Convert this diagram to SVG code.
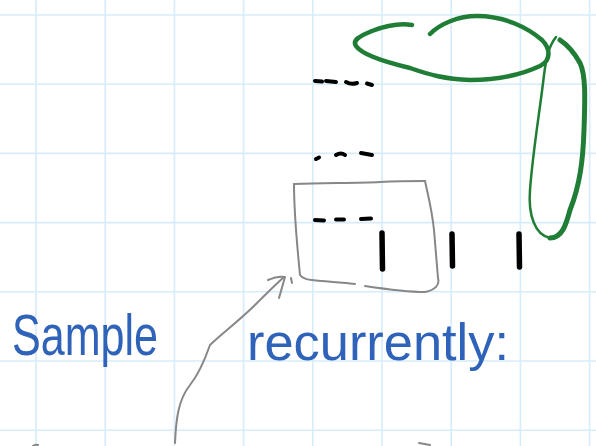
<svg xmlns="http://www.w3.org/2000/svg" width="596" height="446" viewBox="0 0 596 446">
<style>
.grid line{stroke:#d6ecfa;stroke-width:1.6}
.ink{fill:none;stroke-linecap:round;stroke-linejoin:round}
.green{stroke:#1f7d36;stroke-width:4.5}
.grey{stroke:#878787;stroke-width:2}
.black{stroke:#000;stroke-width:4}
.bar{stroke:#000;stroke-width:5.5}
.hand{fill:#2f62b9;font-family:"Liberation Sans",Arial,sans-serif}
</style>
<rect width="596" height="446" fill="#fff"/>
<g id="grid" class="grid">
<line x1="36" y1="0" x2="36" y2="446"/>
<line x1="105.2" y1="0" x2="105.2" y2="446"/>
<line x1="174.4" y1="0" x2="174.4" y2="446"/>
<line x1="243.6" y1="0" x2="243.6" y2="446"/>
<line x1="312.8" y1="0" x2="312.8" y2="446"/>
<line x1="382" y1="0" x2="382" y2="446"/>
<line x1="451.2" y1="0" x2="451.2" y2="446"/>
<line x1="520.4" y1="0" x2="520.4" y2="446"/>
<line x1="589.6" y1="0" x2="589.6" y2="446"/>
<line x1="0" y1="15" x2="596" y2="15"/>
<line x1="0" y1="84.2" x2="596" y2="84.2"/>
<line x1="0" y1="153.4" x2="596" y2="153.4"/>
<line x1="0" y1="222.6" x2="596" y2="222.6"/>
<line x1="0" y1="291.8" x2="596" y2="291.8"/>
<line x1="0" y1="361" x2="596" y2="361"/>
<line x1="0" y1="430.2" x2="596" y2="430.2"/>
</g>
<g id="green-loops" class="ink green">
<path d="M412,25 C400,23 385,26 372,31 C360,36 352,40 356,46 C362,55 385,62 410,68 C430,75 445,79 470,80 C500,80 525,73 540,66 C552,60 550,48 542,40 C528,28 505,16 477,16 C458,16 440,24 430,34"/>
<path style="stroke-width:2.5" d="M556,37 C548,47 546,60 544,75 C540,110 533,150 530,190 C528,215 535,235 550,238"/>
<path style="stroke-width:5" d="M550,238 C562,238 566,225 570,210 C580,185 583,160 584,130 C585,100 586,75 580,63 C574,52 566,44 560,40"/>
</g>
<g id="dashes" class="ink black">
<path d="M315,81 L322,81.5"/><path d="M326,81 L336,82"/><path d="M346,82 Q351,85 357,83"/><path d="M367,83.5 L372,85"/>
<path d="M316,159 L319,157.5"/><path d="M336,155 Q341,152 345,155"/><path d="M361,153 L372,155"/>
<path d="M315,220 L324,220.5"/><path d="M336,219.5 L344,219.5"/><path d="M361,219 L371,218.5"/>
</g>
<g id="bars" class="ink bar">
<path d="M382,233 L382.5,269"/>
<path d="M452,234 L452.5,266"/>
<path d="M519,234 L519.5,267"/>
</g>
<g id="box" class="ink grey">
<path d="M294,184 C330,183 360,183 380,182 C400,181 415,181 425,181"/>
<path d="M294,184 C294,210 297,245 300,275 C302,278 308,280 312,280 C330,282 345,283 355,284"/>
<path d="M365,286 C385,289 405,292 425,292 C435,290 440,285 438,278 L434,230 C432,210 428,195 425,181"/>
<path d="M291,278 L292,283"/>
</g>
<g id="connectors" class="ink grey">
<path d="M175,443 C176,420 178,400 190,385 C198,375 203,365 210,345 C220,335 240,320 255,305 C265,295 275,285 284,277"/>
<path d="M268,280 C275,277 280,276 285,277 L279,298"/>
<path d="M33,446 Q35,444 38,445"/>
<path d="M419,443 L430,445"/>
</g>
<g id="label">
<text class="hand" x="12" y="355" font-size="58" textLength="146" lengthAdjust="spacingAndGlyphs">Sample</text>
<text class="hand" x="247" y="360" font-size="52" textLength="262" lengthAdjust="spacingAndGlyphs">recurrently:</text>
</g>
</svg>
